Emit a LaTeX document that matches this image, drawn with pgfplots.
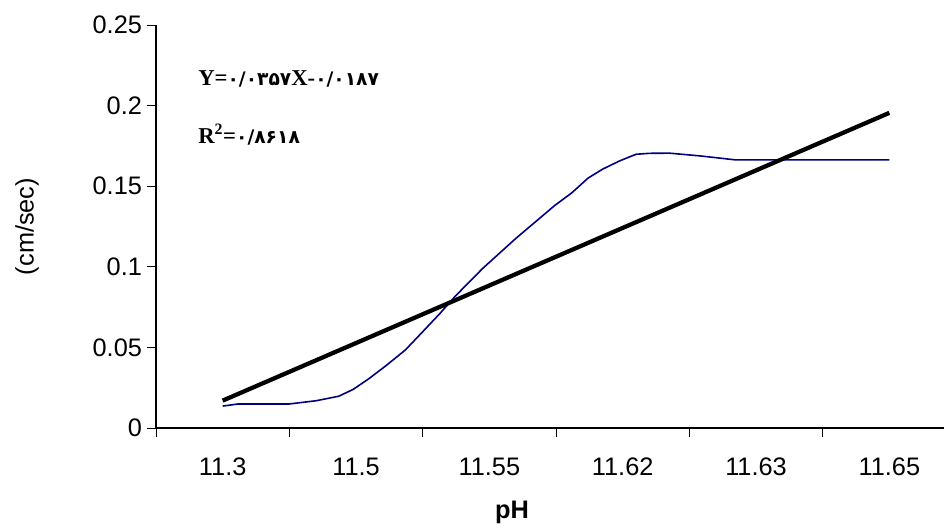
\documentclass[border=0pt]{standalone}
\usepackage{fontspec}
\setmainfont{Liberation Sans}
\newfontfamily\timesfont{Liberation Serif}
\newfontfamily\fadigits{DejaVu Sans}
\usepackage{pgfplots}
\pgfplotsset{compat=1.18}
\definecolor{navyline}{HTML}{000080}
\newcommand{\fa}[1]{{\fadigits\bfseries\fontsize{14}{16}\selectfont #1}}

\begin{document}
\begin{tikzpicture}
\begin{axis}[
  scale only axis,
  width=591pt, height=302.25pt,
  at={(0,0)}, anchor=south west,
  xmin=-0.5, xmax=5.41,
  ymin=0, ymax=0.25,
  axis lines*=left,
  axis line style={line width=1.3pt},
  tick align=outside,
  major tick length=7pt,
  tick style={line width=0.7pt, black},
  xtick={-0.5,0.5,1.5,2.5,3.5,4.5},
  xticklabels={11.3,11.5,11.55,11.62,11.63,11.65},
  xticklabel style={xshift=50pt, yshift=-12pt},
  ytick={0,0.05,0.1,0.15,0.2,0.25},
  yticklabels={0,0.05,0.1,0.15,0.2,0.25},
  tick label style={font=\fontsize{19}{21}\selectfont},
  xlabel={\bfseries pH},
  ylabel={(cm/sec)},
  every axis y label/.style={at={(axis description cs:-0.1637,0.5)}, rotate=90, anchor=center, font=\fontsize{19}{21}\selectfont},
  every axis x label/.style={at={(axis description cs:0.4518,-0.2084)}, anchor=center, font=\fontsize{19}{21}\selectfont},
]
% measured curve
\addplot[navyline, line width=1.2pt] coordinates {
  (0,0.0136) (0.115,0.0149) (0.497,0.0149) (0.70,0.0169) (0.87,0.0197)
  (0.98,0.024) (1.10,0.0308) (1.23,0.039) (1.37,0.0484) (1.50,0.0597)
  (1.63,0.0711) (1.74,0.0814) (1.95,0.099) (2.20,0.1177) (2.49,0.138)
  (2.62,0.146) (2.74,0.155) (2.85,0.1606) (2.98,0.1658) (3.10,0.1698)
  (3.20,0.1704) (3.35,0.1705) (3.58,0.1688) (3.85,0.1663) (5.0,0.1663)
};
% linear fit
\addplot[black, line width=3.2pt] coordinates {
  (0,0.017) (1,0.0527) (2,0.0884) (3,0.1241) (4,0.1598) (5,0.1955)
};
\end{axis}
\node[anchor=base west, inner sep=0pt, font=\timesfont\bfseries\fontsize{17}{19}\selectfont] at (31.5pt,257pt)
  {Y=\fa{۰/۰۳۵۷}X-\fa{۰/۰۱۸۷}};
\node[anchor=base west, inner sep=0pt, font=\timesfont\bfseries\fontsize{17}{19}\selectfont] at (31.5pt,213.5pt)
  {R\textsuperscript{2}=\fa{۰/۸۶۱۸}};
\pgfresetboundingbox
\path[use as bounding box] (-117pt,-75.75pt) rectangle (591pt,321pt);
\end{tikzpicture}
\end{document}
